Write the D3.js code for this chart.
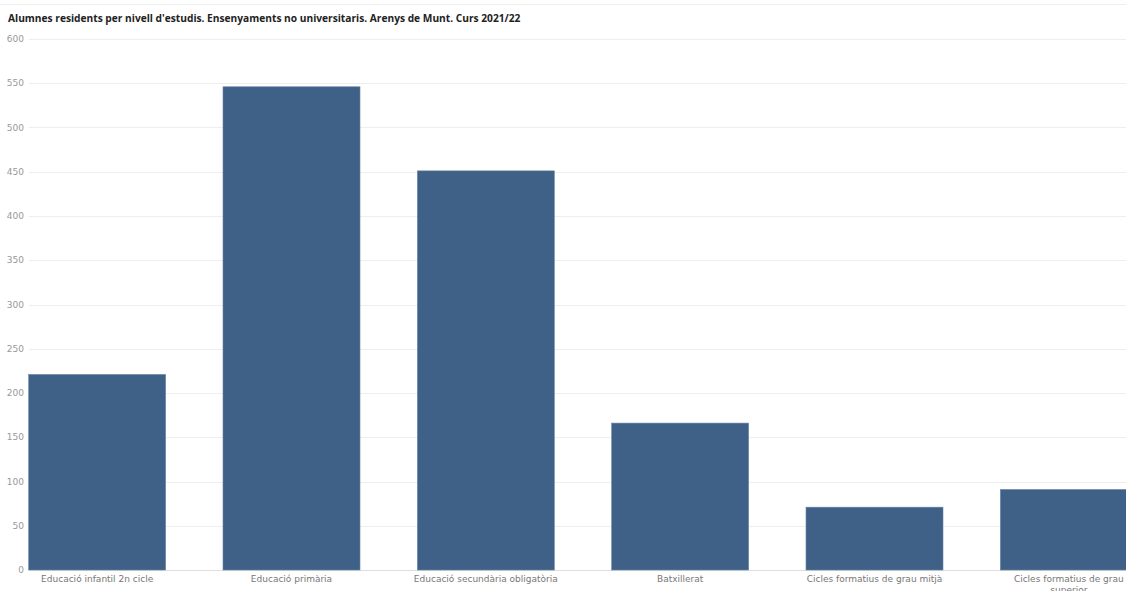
<!DOCTYPE html>
<html>
<head>
<meta charset="utf-8">
<script src="https://cdn.jsdelivr.net/npm/d3@7"></script>
<style>
  body { margin: 0; background: #fff; }
</style>
</head>
<body>
<script>
const categories = [
    'Educació infantil 2n cicle',
    'Educació primària',
    'Educació secundària obligatòria',
    'Batxillerat',
    'Cicles formatius de grau mitjà',
    'Cicles formatius de grau superior'
]
const values = [221, 546, 451, 166, 71, 91]
const yTicks = [0, 50, 100, 150, 200, 250, 300, 350, 400, 450, 500, 550, 600]

const dimensions = {
    width: 1126,
    height: 591
}

const svg = d3.select('body').append('svg')
    .attr('width', dimensions.width)
    .attr('height', dimensions.height)

// faint frame line at the top
svg.append('line')
    .attr('x1', 0).attr('x2', dimensions.width)
    .attr('y1', 4.5).attr('y2', 4.5)
    .attr('stroke', '#eee')

svg.append('text')
    .attr('x', 8)
    .attr('y', 22)
    .attr('font-family', 'Open Sans')
    .attr('font-weight', 'bold')
    .attr('font-size', 10.2)
    .attr('fill', '#222')
    .text('Alumnes residents per nivell d\'estudis. Ensenyaments no universitaris. Arenys de Munt. Curs 2021/22')

const plotLeft = 29
const y = d3.scaleLinear()
    .domain([0, 600])
    .range([570, 39])

const x = d3.scaleBand()
    .domain(categories)
    .range([0, 1166])
    .paddingInner(0.295)
    .paddingOuter(0.1475)

const g = svg.append('g')

// gridlines
g.selectAll('.grid')
    .data(yTicks)
    .enter()
    .append('line')
    .attr('x1', plotLeft)
    .attr('x2', dimensions.width)
    .attr('y1', d => Math.round(y(d)) + 0.5)
    .attr('y2', d => Math.round(y(d)) + 0.5)
    .attr('stroke', d => d === 0 ? '#ddd' : '#eee')

g.selectAll('.ytick')
    .data(yTicks)
    .enter()
    .append('text')
    .attr('x', 24)
    .attr('y', d => y(d))
    .attr('dy', '0.35em')
    .attr('text-anchor', 'end')
    .attr('font-family', 'DejaVu Sans')
    .attr('font-size', 9)
    .attr('fill', '#999')
    .text(d => d)

g.selectAll('.bar')
    .data(values)
    .enter()
    .append('rect')
    .attr('x', (d, i) => x(categories[i]))
    .attr('y', d => y(d))
    .attr('width', x.bandwidth())
    .attr('height', d => y(0) - y(d))
    .attr('fill', '#3f6187')
    .attr('stroke', '#6a86a6')
    .attr('stroke-width', 0.6)

// x labels, wrapped when wider than the room they have
g.selectAll('.xlabel')
    .data(categories)
    .enter()
    .append('text')
    .attr('x', d => x(d) + x.bandwidth() / 2)
    .attr('y', 582)
    .attr('text-anchor', 'middle')
    .attr('font-family', 'DejaVu Sans')
    .attr('font-size', 9)
    .attr('fill', '#777')
    .each(function (d) {
        const text = d3.select(this)
        const cx = +text.attr('x')
        const maxWidth = Math.min(155, 2 * (dimensions.width - cx) + 10)
        const words = d.split(' ')
        let line = []
        let tspan = text.append('tspan').attr('x', cx).attr('dy', 0)
        words.forEach(function (w) {
            line.push(w)
            tspan.text(line.join(' '))
            if (tspan.node().getComputedTextLength() > maxWidth && line.length > 1) {
                line.pop()
                tspan.text(line.join(' '))
                line = [w]
                tspan = text.append('tspan').attr('x', cx).attr('dy', '1.25em').text(w)
            }
        })
    })
</script>
</body>
</html>
